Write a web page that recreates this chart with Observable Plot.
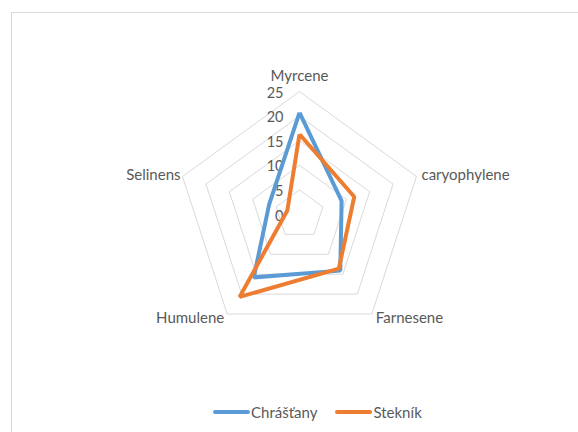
<!DOCTYPE html>
<html>
<head>
<meta charset="utf-8">
<script src="https://cdn.jsdelivr.net/npm/d3@7"></script>
<script src="https://cdn.jsdelivr.net/npm/@observablehq/plot@0.6"></script>
<style>
  body { margin: 0; background: #fff; font-family: Lato, "Open Sans", sans-serif; }
  #chart { position: relative; width: 578px; height: 432px; overflow: hidden; }
  #frame { position: absolute; left: 11px; top: 12px; width: 566px; height: 440px;
           border-left: 1px solid #d9d9d9; border-top: 1px solid #d9d9d9; pointer-events: none; }
  #plot { position: absolute; left: 0; top: 0; }
  #legend { position: absolute; top: 403px; left: 213px; display: flex; align-items: center;
            font-size: 15px; color: #595959; }
  .key { display: flex; align-items: center; margin-right: 18px; }
  .swatch { width: 37px; height: 3.5px; border-radius: 2px; margin-right: 1px; }
</style>
</head>
<body>
<div id="chart">
  <div id="plot"></div>
  <div id="frame"></div>
  <div id="legend"></div>
</div>
<script>
// Terpene content per hop-growing locality
const categories = ["Myrcene", "caryophylene", "Farnesene", "Humulene", "Selinens"];
const chrastany = [20.7, 9.0, 14.1, 15.8, 6.5];
const steknik = [16.3, 11.7, 13.6, 20.7, 2.6];
const seriesNames = ["Chrášťany", "Stekník"];
const tickValues = [0, 5, 10, 15, 20, 25];

const colors = ["#5B9BD5", "#ED7D31"];
const W = 578, H = 432;
const cx = 299, cy = 214, k = 4.92; // centre and pixels per unit
const maxValue = 25;

const n = categories.length;
const angle = i => (2 * Math.PI * i) / n;
const pt = (i, v) => ({x: v * Math.sin(angle(i)), y: v * Math.cos(angle(i))});

// Concentric pentagons for each gridline value
const rings = tickValues.filter(t => t > 0).flatMap(t =>
  d3.range(n + 1).map(i => ({ring: t, ...pt(i % n, t)}))
);

// Closed outline for each series
const allSeries = [chrastany, steknik];
const outlines = allSeries.flatMap((vals, s) =>
  d3.range(n + 1).map(i => ({series: seriesNames[s], ...pt(i % n, vals[i % n])}))
);

// Category labels sit at the outer ring; per-label nudges
const labelLayout = [
  {anchor: "middle", dx: 0, dy: -15},
  {anchor: "start", dx: 5, dy: -1},
  {anchor: "start", dx: 4, dy: 4},
  {anchor: "end", dx: -3, dy: 4},
  {anchor: "end", dx: -2, dy: -1}
];
const labelMarks = categories.map((c, i) =>
  Plot.text([{label: c, ...pt(i, maxValue)}], {
    x: "x", y: "y", text: "label",
    textAnchor: labelLayout[i].anchor, dx: labelLayout[i].dx, dy: labelLayout[i].dy,
    fontSize: 15, fill: "#595959"
  })
);

const chart = Plot.plot({
  width: W, height: H,
  margin: 0,
  style: {background: "transparent", fontFamily: "Lato, sans-serif"},
  x: {domain: [-cx / k, (W - cx) / k], range: [0, W], axis: null},
  y: {domain: [cy / k, -(H - cy) / k], range: [0, H], axis: null},
  color: {domain: seriesNames, range: colors},
  marks: [
    Plot.line(rings, {x: "x", y: "y", z: "ring", stroke: "#d9d9d9", strokeWidth: 1}),
    Plot.text(tickValues, {
      x: () => 0, y: d => d, text: d => String(d),
      textAnchor: "end", dx: -16, dy: 1.5, fontSize: 14.5, fill: "#595959"
    }),
    ...labelMarks,
    Plot.line(outlines, {
      x: "x", y: "y", z: "series", stroke: "series",
      strokeWidth: 4, strokeLinejoin: "miter", strokeLinecap: "butt", curve: "linear"
    })
  ]
});
document.getElementById("plot").appendChild(chart);

// Legend below the radar
const legend = document.getElementById("legend");
seriesNames.forEach((name, s) => {
  const key = document.createElement("div");
  key.className = "key";
  const sw = document.createElement("div");
  sw.className = "swatch";
  sw.style.background = colors[s];
  const label = document.createElement("span");
  label.textContent = name;
  key.appendChild(sw);
  key.appendChild(label);
  legend.appendChild(key);
});
</script>
</body>
</html>
